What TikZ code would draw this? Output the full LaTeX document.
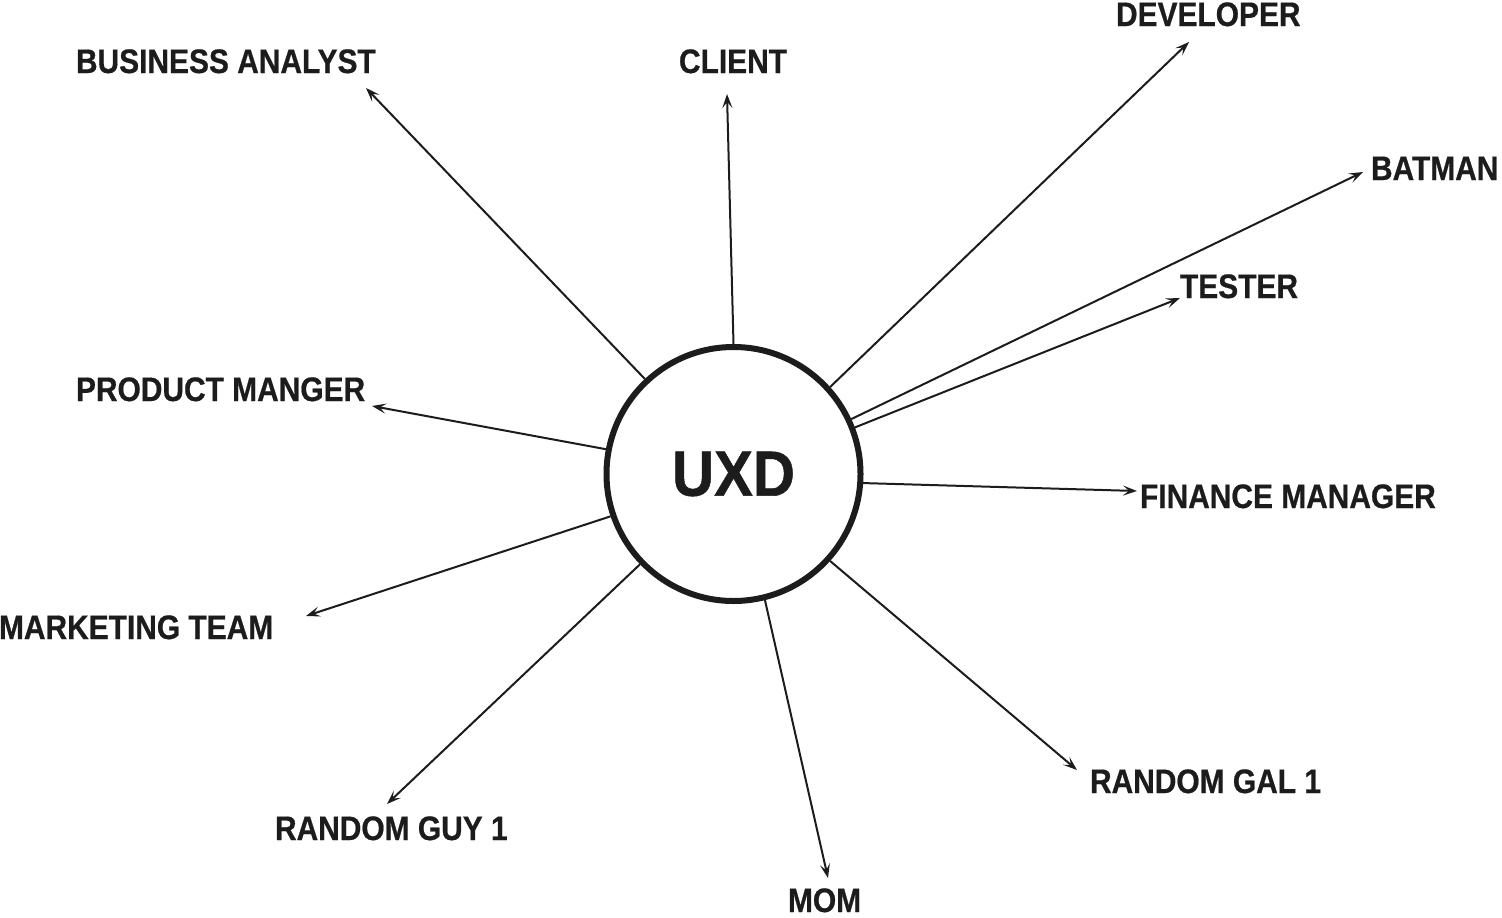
\documentclass[tikz,border=0pt]{standalone}
\usepackage{fontspec}
\usetikzlibrary{arrows.meta}
\newfontfamily\labfont[FakeStretch=0.88,FakeBold=0.6]{Liberation Sans Bold}
\newfontfamily\uxdfont[FakeStretch=0.91,FakeBold=0.8]{Liberation Sans Bold}
\definecolor{ink}{HTML}{1C1C1C}
\tikzset{
  lab/.style={anchor=base west, inner sep=0pt, outer sep=0pt, text=ink,
    font=\labfont\fontsize{34}{34}\selectfont},
  conn/.style={draw=ink, line width=2pt,
    -{Stealth[length=14pt,width=10pt,inset=6pt]}},
}
\begin{document}
\begin{tikzpicture}[x=1pt,y=-1pt]
\useasboundingbox (0,0) rectangle (1502,918);
\node[circle, draw=ink, line width=6pt, minimum size=254pt, inner sep=0pt,
  font=\uxdfont\fontsize{64}{64}\selectfont, text=ink] (uxd) at (733.5,474) {UXD};

\node[lab] (ba)  at (76,73)   {BUSINESS ANALYST};
\node[lab] (cl)  at (679,73)  {CLIENT};
\node[lab] (dev) at (1116,26) {DEVELOPER};
\node[lab] (bat) at (1371,180) {BATMAN};
\node[lab] (tes) at (1180,298) {TESTER};
\node[lab] (pm)  at (76,401)  {PRODUCT MANGER};
\node[lab] (mt)  at (-1,639)  {MARKETING TEAM};
\node[lab] (rg)  at (275,840) {RANDOM GUY 1};
\node[lab] (mom) at (788,912) {MOM};
\node[lab] (gal) at (1090,793) {RANDOM GAL 1};
\node[lab] (fm)  at (1140,508) {FINANCE MANAGER};

\coordinate (tba)  at (366,88);
\coordinate (tcl)  at (727,94);
\coordinate (tdev) at (1189,42);
\coordinate (tbat) at (1363,172);
\coordinate (ttes) at (1180,298);
\coordinate (tpm)  at (372,406);
\coordinate (tmt)  at (306,616);
\coordinate (trg)  at (387,804);
\coordinate (tmom) at (828,878);
\coordinate (tgal) at (1077,770);
\coordinate (tfm)  at (1137,491);

\draw[conn] (uxd.133.3) -- (tba);
\draw[conn] (uxd.90)    -- (tcl);
\draw[conn] (uxd.42.3)  -- (tdev);
\draw[conn] (uxd.25.9)  -- (tbat);
\draw[conn] (uxd.21)    -- (ttes);
\draw[conn] (uxd.169.4) -- (tpm);
\draw[conn] (uxd.199.3) -- (tmt);
\draw[conn] (uxd.224.5) -- (trg);
\draw[conn] (uxd.284)   -- (tmom);
\draw[conn] (uxd.318.3) -- (tgal);
\draw[conn] (uxd.356.9) -- (tfm);
\end{tikzpicture}
\end{document}
